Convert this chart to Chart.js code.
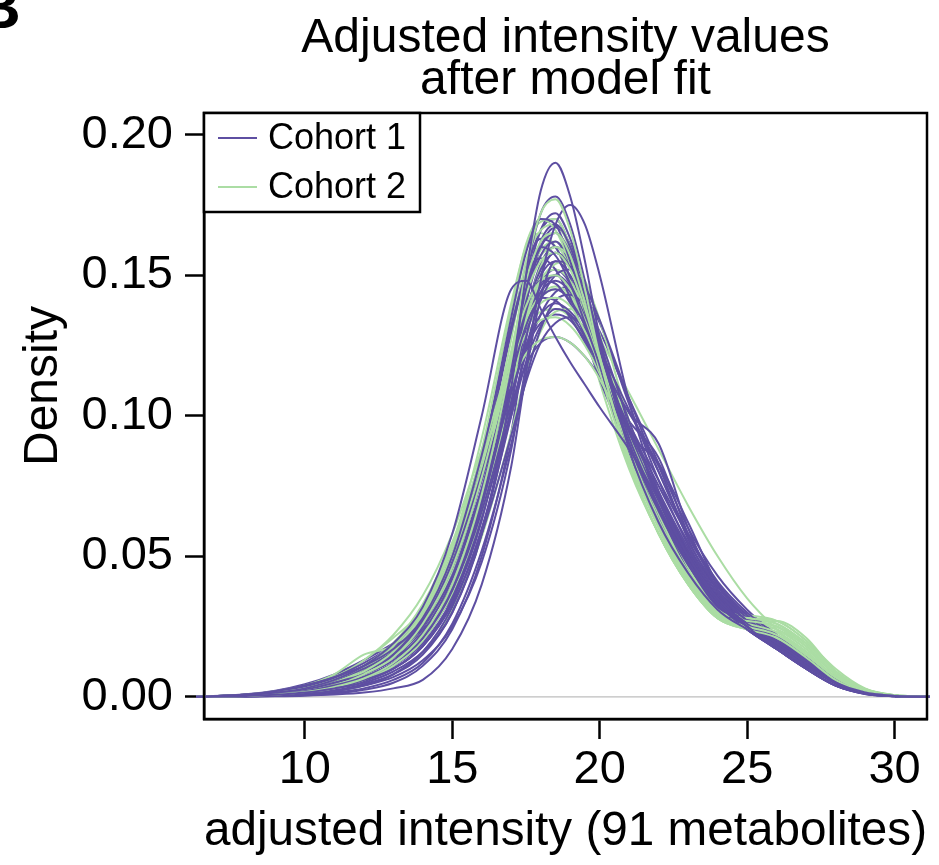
<!DOCTYPE html>
<html>
<head>
<meta charset="utf-8">
<script src="https://cdn.jsdelivr.net/npm/chart.js@4/dist/chart.umd.min.js"></script>
<style>
  html, body { margin: 0; padding: 0; background: #fff; }
  canvas { display: block; }
</style>
</head>
<body>
<canvas id="c" width="939" height="865"></canvas>
<script>
// ---------- data ----------
const chartTitle = ['Adjusted intensity values', 'after model fit'];
const xAxisTitle = 'adjusted intensity (91 metabolites)';
const yAxisTitle = 'Density';
const panelLabel = 'B';
const legendLabels = ['Cohort 1', 'Cohort 2'];
const xTicks = [10, 15, 20, 25, 30];
const yTicks = [0, 0.05, 0.10, 0.15, 0.20];

// shared x positions of the density estimates
const xValues = [6.3, 8, 9, 10, 11, 12, 13, 14, 15, 16, 17, 17.5, 18, 18.5, 19, 19.5, 20, 21, 22, 23, 24, 25, 26, 27, 28, 29, 30, 31.2];

// Cohort 1 density curves
const c1s01 = [0, 0.0003, 0.0007, 0.0015, 0.003, 0.005, 0.009, 0.016, 0.030, 0.058, 0.110, 0.150, 0.180, 0.190, 0.178, 0.155, 0.128, 0.088, 0.062, 0.044, 0.031, 0.024, 0.018, 0.011, 0.005, 0.0015, 0.0003, 0];
const c1s02 = [0, 0.0006, 0.0015, 0.003, 0.006, 0.011, 0.019, 0.032, 0.058, 0.100, 0.145, 0.148, 0.138, 0.128, 0.119, 0.111, 0.103, 0.088, 0.070, 0.050, 0.035, 0.025, 0.017, 0.010, 0.004, 0.001, 0.0002, 0];
const c1s03 = [0, 0.0002, 0.0005, 0.001, 0.002, 0.004, 0.007, 0.013, 0.025, 0.048, 0.088, 0.118, 0.148, 0.168, 0.175, 0.168, 0.150, 0.105, 0.073, 0.050, 0.034, 0.025, 0.018, 0.011, 0.005, 0.0015, 0.0003, 0];
const c1s04 = [0, 0.0004, 0.001, 0.002, 0.004, 0.007, 0.012, 0.021, 0.038, 0.068, 0.115, 0.150, 0.172, 0.178, 0.168, 0.148, 0.125, 0.090, 0.066, 0.047, 0.033, 0.025, 0.018, 0.011, 0.005, 0.0014, 0.0003, 0];
const c1s05 = [0, 0.0005, 0.0012, 0.0025, 0.005, 0.008, 0.013, 0.023, 0.042, 0.074, 0.118, 0.145, 0.160, 0.165, 0.158, 0.143, 0.124, 0.092, 0.068, 0.048, 0.034, 0.026, 0.019, 0.012, 0.005, 0.0015, 0.0003, 0];
const c1s06 = [0, 0.0008, 0.002, 0.004, 0.007, 0.011, 0.017, 0.028, 0.050, 0.086, 0.130, 0.150, 0.160, 0.157, 0.147, 0.133, 0.118, 0.090, 0.067, 0.047, 0.033, 0.024, 0.017, 0.010, 0.004, 0.001, 0.0002, 0];
const c1s07 = [0, 0.0001, 0.0002, 0.0004, 0.0008, 0.0015, 0.003, 0.006, 0.017, 0.040, 0.082, 0.115, 0.142, 0.155, 0.153, 0.143, 0.128, 0.098, 0.072, 0.050, 0.035, 0.026, 0.019, 0.012, 0.005, 0.0015, 0.0003, 0];
const c1s08 = [0, 0.0004, 0.001, 0.002, 0.004, 0.007, 0.012, 0.021, 0.038, 0.066, 0.105, 0.128, 0.144, 0.150, 0.146, 0.135, 0.121, 0.101, 0.090, 0.060, 0.038, 0.027, 0.019, 0.012, 0.005, 0.0015, 0.0003, 0];
const c1s09 = [0, 0.0006, 0.0015, 0.003, 0.006, 0.010, 0.016, 0.027, 0.046, 0.077, 0.114, 0.132, 0.142, 0.145, 0.141, 0.132, 0.120, 0.095, 0.073, 0.053, 0.037, 0.027, 0.019, 0.011, 0.005, 0.0014, 0.0003, 0];
const c1s10 = [0, 0.0005, 0.0012, 0.0025, 0.005, 0.009, 0.015, 0.025, 0.043, 0.072, 0.108, 0.125, 0.136, 0.140, 0.137, 0.130, 0.119, 0.096, 0.075, 0.055, 0.039, 0.028, 0.020, 0.013, 0.006, 0.0018, 0.0004, 0];
const c1s11 = [0, 0.0003, 0.0008, 0.0016, 0.003, 0.006, 0.010, 0.018, 0.033, 0.058, 0.093, 0.112, 0.126, 0.133, 0.135, 0.131, 0.123, 0.102, 0.080, 0.058, 0.041, 0.030, 0.022, 0.014, 0.006, 0.002, 0.0004, 0];
const c1s12 = [0, 0.0005, 0.0012, 0.0025, 0.005, 0.009, 0.015, 0.026, 0.047, 0.084, 0.135, 0.158, 0.170, 0.168, 0.155, 0.137, 0.118, 0.087, 0.064, 0.046, 0.032, 0.024, 0.017, 0.010, 0.004, 0.0012, 0.0002, 0];
const c1s13 = [0, 0.0007, 0.0017, 0.0035, 0.0065, 0.010, 0.014, 0.022, 0.039, 0.070, 0.113, 0.137, 0.152, 0.158, 0.153, 0.140, 0.124, 0.094, 0.070, 0.050, 0.035, 0.026, 0.019, 0.012, 0.005, 0.0015, 0.0003, 0];
const c1s14 = [0, 0.0002, 0.0005, 0.001, 0.002, 0.004, 0.008, 0.016, 0.032, 0.060, 0.100, 0.124, 0.141, 0.150, 0.152, 0.146, 0.134, 0.106, 0.080, 0.057, 0.040, 0.029, 0.021, 0.013, 0.006, 0.0018, 0.0004, 0];
const c1s15 = [0, 0.0008, 0.002, 0.004, 0.007, 0.012, 0.018, 0.024, 0.036, 0.066, 0.112, 0.140, 0.157, 0.162, 0.154, 0.139, 0.121, 0.089, 0.065, 0.046, 0.032, 0.024, 0.017, 0.010, 0.004, 0.0012, 0.0002, 0];
const c1s16 = [0, 0.0006, 0.0014, 0.003, 0.006, 0.010, 0.016, 0.027, 0.047, 0.080, 0.120, 0.138, 0.148, 0.147, 0.140, 0.129, 0.116, 0.092, 0.070, 0.051, 0.036, 0.027, 0.019, 0.012, 0.005, 0.0015, 0.0003, 0];
const c1s17 = [0, 0.0003, 0.0008, 0.0017, 0.0035, 0.0065, 0.011, 0.019, 0.035, 0.064, 0.110, 0.142, 0.162, 0.168, 0.160, 0.144, 0.124, 0.090, 0.066, 0.047, 0.033, 0.025, 0.018, 0.011, 0.005, 0.0014, 0.0003, 0];
const c1s18 = [0, 0.0002, 0.0004, 0.0008, 0.0016, 0.003, 0.006, 0.012, 0.026, 0.052, 0.090, 0.113, 0.131, 0.141, 0.143, 0.139, 0.130, 0.106, 0.083, 0.060, 0.043, 0.031, 0.022, 0.014, 0.006, 0.002, 0.0004, 0];
const c1s19 = [0, 0.0007, 0.0017, 0.0035, 0.006, 0.010, 0.016, 0.027, 0.049, 0.086, 0.132, 0.150, 0.156, 0.152, 0.142, 0.128, 0.113, 0.088, 0.067, 0.049, 0.035, 0.026, 0.018, 0.011, 0.005, 0.0014, 0.0003, 0];
const c1s20 = [0, 0.0004, 0.001, 0.002, 0.004, 0.007, 0.012, 0.021, 0.038, 0.065, 0.100, 0.119, 0.132, 0.138, 0.136, 0.128, 0.118, 0.101, 0.082, 0.056, 0.038, 0.027, 0.019, 0.012, 0.005, 0.0015, 0.0003, 0];
const c1s21 = [0, 0.0003, 0.0007, 0.0015, 0.003, 0.006, 0.010, 0.018, 0.034, 0.063, 0.110, 0.145, 0.166, 0.172, 0.163, 0.146, 0.125, 0.089, 0.064, 0.046, 0.034, 0.027, 0.021, 0.014, 0.007, 0.0025, 0.0005, 0];
const c1s22 = [0, 0.0005, 0.0013, 0.0027, 0.005, 0.009, 0.014, 0.024, 0.042, 0.071, 0.110, 0.132, 0.146, 0.150, 0.145, 0.134, 0.120, 0.094, 0.071, 0.051, 0.036, 0.027, 0.020, 0.013, 0.006, 0.0017, 0.0004, 0];
const c1s23 = [0, 0.0002, 0.0005, 0.0011, 0.0023, 0.0045, 0.008, 0.015, 0.030, 0.058, 0.103, 0.135, 0.154, 0.160, 0.156, 0.143, 0.126, 0.094, 0.069, 0.049, 0.035, 0.026, 0.019, 0.012, 0.005, 0.0015, 0.0003, 0];
const c1s24 = [0, 0.0006, 0.0015, 0.003, 0.006, 0.010, 0.016, 0.027, 0.045, 0.073, 0.104, 0.118, 0.126, 0.128, 0.126, 0.121, 0.114, 0.098, 0.085, 0.058, 0.040, 0.029, 0.021, 0.013, 0.006, 0.0017, 0.0004, 0];
const c1s25 = [0, 0.0004, 0.001, 0.002, 0.0045, 0.008, 0.014, 0.025, 0.045, 0.081, 0.130, 0.153, 0.163, 0.160, 0.149, 0.133, 0.116, 0.088, 0.066, 0.047, 0.033, 0.024, 0.017, 0.010, 0.004, 0.0012, 0.0002, 0];
const c1s26 = [0, 0.0003, 0.0008, 0.0016, 0.0032, 0.006, 0.011, 0.020, 0.037, 0.065, 0.102, 0.122, 0.136, 0.144, 0.146, 0.142, 0.133, 0.104, 0.077, 0.054, 0.038, 0.028, 0.020, 0.013, 0.006, 0.0017, 0.0004, 0];
const c1s27 = [0, 0.0009, 0.0022, 0.0045, 0.008, 0.013, 0.019, 0.026, 0.040, 0.070, 0.112, 0.136, 0.150, 0.155, 0.150, 0.138, 0.123, 0.093, 0.069, 0.049, 0.034, 0.025, 0.018, 0.011, 0.005, 0.0014, 0.0003, 0];
const c1s28 = [0, 0.0004, 0.001, 0.002, 0.004, 0.007, 0.012, 0.021, 0.038, 0.067, 0.107, 0.131, 0.147, 0.152, 0.147, 0.135, 0.119, 0.094, 0.083, 0.062, 0.040, 0.028, 0.019, 0.012, 0.005, 0.0015, 0.0003, 0];
const c1s29 = [0, 0.0007, 0.0017, 0.0035, 0.0065, 0.011, 0.018, 0.030, 0.051, 0.083, 0.120, 0.135, 0.142, 0.141, 0.135, 0.126, 0.115, 0.093, 0.072, 0.052, 0.037, 0.027, 0.019, 0.012, 0.005, 0.0015, 0.0003, 0];
const c1s30 = [0, 0.0003, 0.0007, 0.0015, 0.003, 0.0055, 0.010, 0.018, 0.034, 0.063, 0.108, 0.140, 0.160, 0.167, 0.161, 0.146, 0.127, 0.093, 0.067, 0.047, 0.033, 0.025, 0.018, 0.011, 0.005, 0.0014, 0.0003, 0];
const c1s31 = [0, 0.0005, 0.0012, 0.0025, 0.005, 0.009, 0.015, 0.026, 0.045, 0.074, 0.108, 0.124, 0.133, 0.136, 0.134, 0.127, 0.118, 0.097, 0.077, 0.057, 0.040, 0.029, 0.021, 0.013, 0.006, 0.0018, 0.0004, 0];
const c1s32 = [0, 0.0001, 0.0003, 0.0006, 0.0012, 0.0025, 0.005, 0.011, 0.024, 0.050, 0.094, 0.127, 0.150, 0.158, 0.154, 0.142, 0.127, 0.097, 0.071, 0.050, 0.035, 0.026, 0.019, 0.012, 0.005, 0.0015, 0.0003, 0];
const c1s33 = [0, 0.0004, 0.0009, 0.0019, 0.0038, 0.007, 0.012, 0.021, 0.039, 0.070, 0.118, 0.150, 0.166, 0.170, 0.160, 0.142, 0.121, 0.087, 0.063, 0.045, 0.032, 0.025, 0.018, 0.011, 0.005, 0.0014, 0.0003, 0];
const c1s34 = [0, 0.0006, 0.0014, 0.0028, 0.0055, 0.0095, 0.015, 0.025, 0.043, 0.073, 0.112, 0.132, 0.144, 0.148, 0.144, 0.134, 0.121, 0.094, 0.071, 0.051, 0.036, 0.027, 0.020, 0.012, 0.005, 0.0016, 0.0003, 0];

// Cohort 2 density curves
const c2s01 = [0, 0.0003, 0.0008, 0.0017, 0.0035, 0.0065, 0.012, 0.022, 0.040, 0.072, 0.120, 0.152, 0.172, 0.177, 0.166, 0.145, 0.121, 0.084, 0.058, 0.040, 0.028, 0.024, 0.021, 0.014, 0.006, 0.0016, 0.0003, 0];
const c2s02 = [0, 0.0004, 0.001, 0.002, 0.004, 0.008, 0.014, 0.026, 0.046, 0.078, 0.122, 0.148, 0.162, 0.165, 0.157, 0.140, 0.120, 0.085, 0.060, 0.041, 0.029, 0.025, 0.022, 0.015, 0.007, 0.002, 0.0004, 0];
const c2s03 = [0, 0.0005, 0.0012, 0.0025, 0.005, 0.009, 0.016, 0.029, 0.050, 0.082, 0.122, 0.143, 0.155, 0.158, 0.152, 0.138, 0.121, 0.088, 0.062, 0.042, 0.029, 0.026, 0.023, 0.016, 0.007, 0.002, 0.0004, 0];
const c2s04 = [0, 0.0006, 0.0015, 0.003, 0.006, 0.011, 0.019, 0.032, 0.054, 0.086, 0.122, 0.139, 0.148, 0.150, 0.145, 0.134, 0.119, 0.088, 0.063, 0.043, 0.029, 0.027, 0.025, 0.018, 0.008, 0.0025, 0.0005, 0];
const c2s05 = [0, 0.0005, 0.0012, 0.0025, 0.005, 0.010, 0.018, 0.031, 0.053, 0.084, 0.117, 0.132, 0.140, 0.142, 0.139, 0.130, 0.118, 0.090, 0.065, 0.044, 0.030, 0.028, 0.026, 0.019, 0.009, 0.0028, 0.0005, 0];
const c2s06 = [0, 0.0006, 0.0015, 0.003, 0.006, 0.011, 0.019, 0.033, 0.055, 0.085, 0.112, 0.122, 0.127, 0.128, 0.126, 0.121, 0.113, 0.092, 0.068, 0.046, 0.031, 0.028, 0.027, 0.020, 0.010, 0.003, 0.0006, 0];
const c2s07 = [0, 0.0004, 0.001, 0.0022, 0.0045, 0.009, 0.016, 0.028, 0.050, 0.088, 0.138, 0.161, 0.170, 0.166, 0.154, 0.136, 0.116, 0.082, 0.058, 0.040, 0.028, 0.024, 0.021, 0.015, 0.007, 0.002, 0.0004, 0];
const c2s08 = [0, 0.0003, 0.0007, 0.0014, 0.003, 0.006, 0.011, 0.020, 0.037, 0.066, 0.108, 0.135, 0.153, 0.160, 0.156, 0.145, 0.129, 0.094, 0.065, 0.044, 0.030, 0.027, 0.025, 0.018, 0.008, 0.0024, 0.0005, 0];
const c2s09 = [0, 0.0007, 0.0017, 0.0035, 0.007, 0.013, 0.022, 0.036, 0.058, 0.088, 0.117, 0.129, 0.134, 0.135, 0.132, 0.125, 0.115, 0.089, 0.065, 0.045, 0.031, 0.029, 0.027, 0.020, 0.009, 0.0028, 0.0006, 0];
const c2s10 = [0, 0.0003, 0.0008, 0.0016, 0.0032, 0.006, 0.012, 0.023, 0.042, 0.072, 0.112, 0.134, 0.148, 0.154, 0.155, 0.148, 0.134, 0.098, 0.067, 0.045, 0.030, 0.027, 0.024, 0.017, 0.008, 0.0022, 0.0004, 0];
const c2s11 = [0, 0.0004, 0.001, 0.002, 0.004, 0.008, 0.014, 0.025, 0.045, 0.079, 0.127, 0.155, 0.166, 0.168, 0.159, 0.141, 0.120, 0.083, 0.058, 0.041, 0.029, 0.025, 0.022, 0.015, 0.007, 0.002, 0.0004, 0];
const c2s12 = [0, 0.0005, 0.0013, 0.0027, 0.0055, 0.010, 0.017, 0.030, 0.051, 0.082, 0.117, 0.134, 0.143, 0.146, 0.143, 0.134, 0.121, 0.090, 0.064, 0.043, 0.029, 0.026, 0.024, 0.018, 0.008, 0.0025, 0.0005, 0];
const c2s13 = [0, 0.0008, 0.002, 0.004, 0.008, 0.015, 0.018, 0.027, 0.046, 0.078, 0.122, 0.147, 0.159, 0.162, 0.155, 0.140, 0.121, 0.086, 0.060, 0.041, 0.029, 0.026, 0.023, 0.016, 0.007, 0.002, 0.0004, 0];
const c2s14 = [0, 0.0004, 0.001, 0.002, 0.0045, 0.009, 0.016, 0.028, 0.048, 0.079, 0.118, 0.138, 0.149, 0.152, 0.148, 0.137, 0.122, 0.089, 0.063, 0.043, 0.029, 0.026, 0.024, 0.017, 0.008, 0.0023, 0.0005, 0];
const c2s15 = [0, 0.0002, 0.0005, 0.001, 0.002, 0.004, 0.008, 0.016, 0.031, 0.057, 0.094, 0.115, 0.130, 0.137, 0.138, 0.134, 0.127, 0.108, 0.088, 0.068, 0.050, 0.035, 0.024, 0.015, 0.007, 0.002, 0.0004, 0];
const c2s16 = [0, 0.0003, 0.0008, 0.0018, 0.0038, 0.0075, 0.014, 0.026, 0.047, 0.083, 0.133, 0.159, 0.169, 0.170, 0.160, 0.141, 0.119, 0.083, 0.058, 0.040, 0.028, 0.025, 0.023, 0.016, 0.007, 0.002, 0.0004, 0];
const c2s17 = [0, 0.0007, 0.0018, 0.0038, 0.0075, 0.013, 0.021, 0.031, 0.050, 0.080, 0.116, 0.133, 0.142, 0.145, 0.142, 0.133, 0.121, 0.090, 0.064, 0.044, 0.030, 0.027, 0.025, 0.019, 0.009, 0.0026, 0.0005, 0];
const c2s18 = [0, 0.0004, 0.001, 0.0021, 0.0042, 0.008, 0.015, 0.027, 0.048, 0.080, 0.123, 0.147, 0.157, 0.160, 0.153, 0.139, 0.121, 0.087, 0.061, 0.041, 0.028, 0.026, 0.027, 0.021, 0.009, 0.0025, 0.0005, 0];
const c2s19 = [0, 0.0005, 0.0013, 0.0028, 0.0058, 0.011, 0.019, 0.032, 0.054, 0.085, 0.117, 0.131, 0.137, 0.138, 0.135, 0.127, 0.117, 0.090, 0.066, 0.046, 0.032, 0.028, 0.026, 0.019, 0.009, 0.0027, 0.0005, 0];
const c2s20 = [0, 0.0005, 0.0012, 0.0026, 0.0052, 0.010, 0.018, 0.031, 0.054, 0.092, 0.140, 0.160, 0.165, 0.160, 0.148, 0.131, 0.112, 0.081, 0.058, 0.040, 0.028, 0.024, 0.022, 0.016, 0.007, 0.002, 0.0004, 0];

const cohort1 = [c1s01, c1s02, c1s03, c1s04, c1s05, c1s06, c1s07, c1s08, c1s09, c1s10, c1s11, c1s12,
                 c1s13, c1s14, c1s15, c1s16, c1s17, c1s18, c1s19, c1s20, c1s21, c1s22, c1s23, c1s24,
                 c1s25, c1s26, c1s27, c1s28, c1s29, c1s30, c1s31, c1s32, c1s33, c1s34];
const cohort2 = [c2s01, c2s02, c2s03, c2s04, c2s05, c2s06, c2s07, c2s08, c2s09, c2s10,
                 c2s11, c2s12, c2s13, c2s14, c2s15, c2s16, c2s17, c2s18, c2s19, c2s20];

// ---------- styling ----------
const PURPLE = '#5E4FA2';
const GREEN = '#ABDDA4';
const FONT = "'Liberation Sans', Arial, Helvetica, sans-serif";

function toPoints(ys) { return ys.map((y, i) => ({ x: xValues[i], y: y })); }
function makeSet(ys, color, group) {
  return {
    label: group, data: toPoints(ys), borderColor: color, backgroundColor: color,
    borderWidth: 2, pointRadius: 0, fill: false, cubicInterpolationMode: 'monotone',
    clip: { left: 8, right: 4, top: 0, bottom: 0 }
  };
}
// interleave the two cohorts so that both stay visible in the bundle
const datasets = [];
let g = 0;
cohort1.forEach((ys, i) => {
  datasets.push(makeSet(ys, PURPLE, legendLabels[0]));
  const target = Math.floor((i + 1) * cohort2.length / cohort1.length);
  while (g < target) { datasets.push(makeSet(cohort2[g], GREEN, legendLabels[1])); g++; }
});

const decorPlugin = {
  id: 'decor',
  beforeDatasetsDraw(chart) {
    const { ctx, chartArea: a, scales } = chart;
    const y0 = scales.y.getPixelForValue(0);
    ctx.save();
    ctx.strokeStyle = '#BEBEBE';
    ctx.lineWidth = 1.2;
    ctx.beginPath();
    ctx.moveTo(a.left, y0); ctx.lineTo(a.right, y0);
    ctx.stroke();
    ctx.restore();
  },
  afterDraw(chart) {
    const { ctx, chartArea: a } = chart;
    ctx.save();
    // plot frame
    ctx.strokeStyle = '#000';
    ctx.lineWidth = 2.5;
    ctx.strokeRect(a.left, a.top, a.right - a.left, a.bottom - a.top);

    // title
    const cx = (a.left + a.right) / 2;
    ctx.fillStyle = '#000';
    ctx.font = '48px ' + FONT;
    ctx.textAlign = 'center';
    ctx.textBaseline = 'alphabetic';
    ctx.fillText(chartTitle[0], cx, 52);
    ctx.fillText(chartTitle[1], cx, 94);

    // y axis title
    ctx.save();
    ctx.translate(44, 386);
    ctx.rotate(-Math.PI / 2);
    ctx.textBaseline = 'middle';
    ctx.font = '48px ' + FONT;
    ctx.fillText(yAxisTitle, 0, 0);
    ctx.restore();

    // panel letter
    ctx.font = 'bold 62px ' + FONT;
    ctx.textAlign = 'left';
    ctx.textBaseline = 'alphabetic';
    ctx.fillText(panelLabel, -24, 28);

    // legend
    const lx = a.left, ly = a.top, lw = 216, lh = 99;
    ctx.fillStyle = '#fff';
    ctx.fillRect(lx, ly, lw, lh);
    ctx.strokeStyle = '#000';
    ctx.lineWidth = 2.5;
    ctx.strokeRect(lx, ly, lw, lh);
    const rows = [[legendLabels[0], PURPLE, ly + 25], [legendLabels[1], GREEN, ly + 74]];
    ctx.font = '36px ' + FONT;
    ctx.textBaseline = 'middle';
    ctx.textAlign = 'left';
    rows.forEach(([txt, col, yy]) => {
      ctx.strokeStyle = col;
      ctx.lineWidth = 2;
      ctx.beginPath();
      ctx.moveTo(lx + 14, yy); ctx.lineTo(lx + 53, yy);
      ctx.stroke();
      ctx.fillStyle = '#000';
      ctx.fillText(txt, lx + 64, yy + 1);
    });
    ctx.restore();
  }
};

new Chart(document.getElementById('c'), {
  type: 'line',
  data: { datasets },
  options: {
    responsive: false,
    animation: false,
    events: [],
    layout: { padding: { top: 113, right: 12, left: 0, bottom: 0 } },
    plugins: { legend: { display: false }, title: { display: false }, tooltip: { enabled: false } },
    scales: {
      x: {
        type: 'linear', min: 6.58, max: 31.1,
        afterBuildTicks: s => { s.ticks = xTicks.map(v => ({ value: v })); },
        afterFit: s => { s.height = 146; },
        grid: { display: true, drawOnChartArea: false, drawTicks: true, tickLength: 20, tickColor: '#000', tickWidth: 2.5 },
        border: { display: true, color: '#000', width: 2.5 },
        ticks: { color: '#000', font: { family: FONT, size: 47, lineHeight: 1 }, padding: 8, maxRotation: 0, autoSkip: false },
        title: { display: true, text: xAxisTitle, color: '#000', font: { family: FONT, size: 48, lineHeight: 1.2 }, padding: { top: 0, bottom: 4 } }
      },
      y: {
        type: 'linear', min: -0.0079, max: 0.2077,
        afterBuildTicks: s => { s.ticks = yTicks.map(v => ({ value: v })); },
        afterFit: s => { s.width = 204; },
        grid: { display: true, drawOnChartArea: false, drawTicks: true, tickLength: 19, tickColor: '#000', tickWidth: 2.5 },
        border: { display: true, color: '#000', width: 2.5 },
        ticks: { color: '#000', font: { family: FONT, size: 47 }, padding: 12, callback: v => Number(v).toFixed(2) },
        title: { display: false }
      }
    }
  },
  plugins: [decorPlugin]
});
</script>
</body>
</html>
